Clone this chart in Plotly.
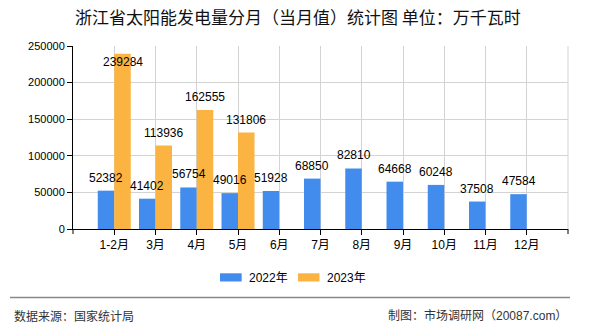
import plotly.graph_objects as go

months = ["1-2月", "3月", "4月", "5月", "6月", "7月", "8月", "9月", "10月", "11月", "12月"]
values_2022 = [52382, 41402, 56754, 49016, 51928, 68850, 82810, 64668, 60248, 37508, 47584]
values_2023 = [239284, 113936, 162555, 131806, None, None, None, None, None, None, None]
series_names = ["2022年", "2023年"]
colors = ["#428CEE", "#FBB441"]
y_max = 250000
y_dtick = 50000

W, H = 590, 330
L, R, T, B = 73, 22, 46, 101
PW, PH = W - L - R, H - T - B

def px(x):
    return (x - L) / PW

def py(y):
    return (H - B - y) / PH

NUM_FONT = "Liberation Sans, Noto Sans CJK SC, sans-serif"
CJK_FONT = "Noto Sans CJK SC, Liberation Sans, sans-serif"

fig = go.Figure()
for name, vals, col in zip(series_names, [values_2022, values_2023], colors):
    fig.add_trace(go.Bar(x=months, y=vals, name=name, marker_color=col,
                         marker_line_width=0, showlegend=False))

# data labels
annotations = []
cat_w = PW / 12
bar_w = cat_w * 0.8 / 2
for si, vals in enumerate([values_2022, values_2023]):
    off = (-0.5 + si) * bar_w
    for m, v in zip(months, vals):
        if v is None:
            continue
        shift = 13 if v / y_max < 0.92 else -8
        annotations.append(dict(x=m, y=v, xref="x", yref="y", text=str(v),
                                showarrow=False, xshift=off, yshift=shift,
                                yanchor="middle", xanchor="center",
                                font=dict(family=NUM_FONT, size=12, color="#000")))

# legend (custom)
shapes = []
leg = [(220, 241.7, 247, series_names[0], colors[0]),
       (298, 319.5, 325, series_names[1], colors[1])]
for x0, x1, tx, name, col in leg:
    shapes.append(dict(type="rect", xref="paper", yref="paper",
                       x0=px(x0), x1=px(x1), y0=py(281.5), y1=py(273.3),
                       fillcolor=col, line_width=0))
    annotations.append(dict(x=px(tx), y=py(277.5), xref="paper", yref="paper",
                            text=name, showarrow=False, xanchor="left", yanchor="middle",
                            font=dict(family=NUM_FONT, size=12, color="#000")))

# right border line of grid
shapes.append(dict(type="line", xref="paper", yref="paper", x0=1, x1=1, y0=0, y1=1,
                   line=dict(color="#D3D3D3", width=1)))
# axis end ticks
shapes.append(dict(type="line", xref="paper", yref="paper", x0=1, x1=1, y0=0, y1=py(234),
                   line=dict(color="#000", width=1)))
shapes.append(dict(type="line", xref="paper", yref="paper", x0=0, x1=0, y0=0, y1=py(234),
                   line=dict(color="#000", width=1)))

# footer line
shapes.append(dict(type="line", xref="paper", yref="paper", x0=px(10), x1=px(570),
                   y0=py(297.5), y1=py(297.5), line=dict(color="#888888", width=1.5)))
annotations.append(dict(x=px(12), y=py(315.5), xref="paper", yref="paper",
                        text="数据来源：国家统计局", showarrow=False, xanchor="left",
                        yanchor="middle", font=dict(family=CJK_FONT, size=12, color="#333")))
annotations.append(dict(x=px(569), y=py(315.5), xref="paper", yref="paper",
                        text="制图：市场调研网（20087.com）", showarrow=False, xanchor="right",
                        yanchor="middle", font=dict(family=NUM_FONT, size=12, color="#333")))

fig.update_layout(
    width=W, height=H,
    margin=dict(l=L, r=R, t=T, b=B, pad=0),
    paper_bgcolor="white", plot_bgcolor="white",
    barmode="group", bargap=0.2, bargroupgap=0,
    title=dict(text="浙江省太阳能发电量分月（当月值）统计图 单位：万千瓦时",
               x=0.505, xref="container", xanchor="center",
               y=1 - 18 / H, yref="container", yanchor="middle",
               font=dict(family=CJK_FONT, size=17, color="#111")),
    shapes=shapes, annotations=annotations, showlegend=False,
)
fig.update_xaxes(type="category", range=[-1, 11], showgrid=True, gridcolor="#D3D3D3",
                 gridwidth=1, showline=True, linecolor="#000", linewidth=1,
                 ticks="outside", ticklen=5, tickcolor="#000",
                 tickfont=dict(family=NUM_FONT, size=12, color="#000"), fixedrange=True)
fig.update_yaxes(range=[0, y_max], dtick=y_dtick, showgrid=True, gridcolor="#D3D3D3",
                 gridwidth=1, showline=True, linecolor="#000", linewidth=1,
                 ticks="outside", ticklen=5, tickcolor="#000", zeroline=False,
                 tickformat="d",
                 tickfont=dict(family=NUM_FONT, size=11, color="#000"), fixedrange=True)

fig.write_html("out.html")
